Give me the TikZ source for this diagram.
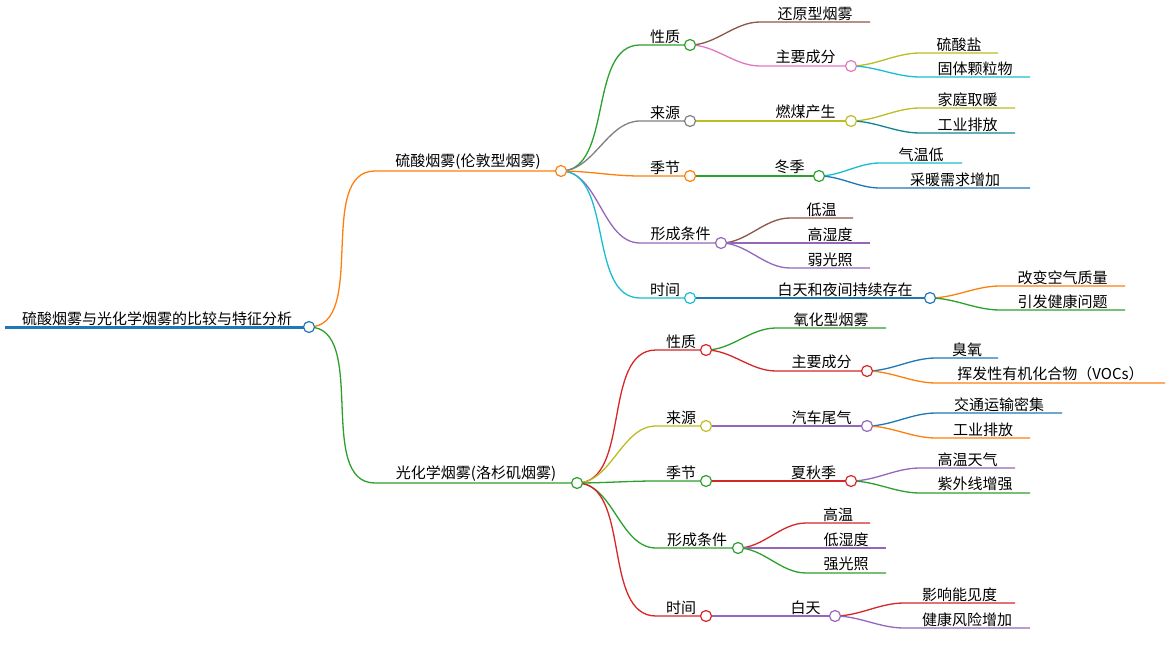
\documentclass[tikz,border=0pt]{standalone}
\usepackage{fontspec}
\setmainfont{Noto Sans CJK SC}
\pgfdeclarelayer{bg}\pgfsetlayers{bg,main}
\definecolor{cb}{HTML}{1F77B4}\definecolor{co}{HTML}{FF7F0E}\definecolor{cg}{HTML}{2CA02C}
\definecolor{cr}{HTML}{D62728}\definecolor{cp}{HTML}{9467BD}\definecolor{cn}{HTML}{8C564B}
\definecolor{ck}{HTML}{E377C2}\definecolor{cy}{HTML}{7F7F7F}\definecolor{cl}{HTML}{BCBD22}
\definecolor{cc}{HTML}{17BECF}
\tikzset{lbl/.style={anchor=south,inner sep=1.5pt,font=\fontsize{15}{18}\selectfont},
 knob/.style={circle,draw,fill=white,line width=1.2pt,minimum size=11pt,inner sep=0pt}}
% \br{parent}{name}{x0}{x1}{y}{color}{text}
\newcommand\br[7]{%
 \coordinate (#2s) at (#3,#5);\coordinate (#2) at (#4,#5);
 \begin{pgfonlayer}{bg}
 \draw[#6,line width=1.3pt] (#1) to[out=0,in=180,looseness=0.9] (#2s) -- (#2);
 \end{pgfonlayer}
 \node[lbl] (#2t) at ($(#2s)!0.5!(#2)$) {#7};}
\newcommand\kn[2]{\node[knob,draw=#2] at (#1) {};}
\usetikzlibrary{calc}
\begin{document}
\begin{tikzpicture}[x=1pt,y=-1pt]
\useasboundingbox (0,0) rectangle (1169,650);
\coordinate (roots) at (5,327);\coordinate (root) at (309,327);
\draw[cb,line width=3pt] (roots)--(root);
\node[lbl] (roott) at (157,327) {硫酸烟雾与光化学烟雾的比较与特征分析};
% branch 1
\br{root}{a}{375}{561}{171}{co}{硫酸烟雾(伦敦型烟雾)}
\br{a}{a1}{640}{690}{45}{cg}{性质}
\br{a1}{a11}{760}{870}{22}{cn}{还原型烟雾}
\br{a1}{a12}{760}{851}{66}{ck}{主要成分}
\br{a12}{a121}{920}{998}{53}{cl}{硫酸盐}
\br{a12}{a122}{920}{1030}{77}{cc}{固体颗粒物}
\br{a}{a2}{640}{690}{121}{cy}{来源}
\br{a2}{a21}{760}{851}{121}{cl}{燃煤产生}
\br{a21}{a211}{920}{1015}{108}{cl}{家庭取暖}
\br{a21}{a212}{920}{1015}{133}{cc!70!black}{工业排放}
\br{a}{a3}{640}{690}{176}{co}{季节}
\br{a3}{a31}{760}{819}{176}{cg}{冬季}
\br{a31}{a311}{880}{962}{163}{cc}{气温低}
\br{a31}{a312}{880}{1030}{188}{cb}{采暖需求增加}
\br{a}{a4}{640}{721}{243}{cp}{形成条件}
\br{a4}{a41}{790}{853}{218}{cn}{低温}
\br{a4}{a42}{790}{870}{243}{cp}{高湿度}
\br{a4}{a43}{790}{870}{268}{cp}{弱光照}
\br{a}{a5}{640}{690}{298}{cc}{时间}
\br{a5}{a51}{760}{930}{298}{cb}{白天和夜间持续存在}
\br{a51}{a511}{1000}{1125}{286}{co}{改变空气质量}
\br{a51}{a512}{1000}{1125}{310}{cg}{引发健康问题}
% branch 2
\br{root}{b}{375}{577}{483}{cg}{光化学烟雾(洛杉矶烟雾)}
\br{b}{b1}{656}{706}{350}{cr}{性质}
\br{b1}{b11}{776}{886}{328}{cg}{氧化型烟雾}
\br{b1}{b12}{776}{867}{371}{cr}{主要成分}
\br{b12}{b121}{936}{998}{358}{cb}{臭氧}
\br{b12}{b122}{936}{1165}{383}{co}{挥发性有机化合物（VOCs）}
\br{b}{b2}{656}{706}{426}{cl}{来源}
\br{b2}{b21}{776}{867}{426}{cp}{汽车尾气}
\br{b21}{b211}{936}{1062}{413}{cb}{交通运输密集}
\br{b21}{b212}{936}{1030}{438}{co}{工业排放}
\br{b}{b3}{656}{706}{481}{cg}{季节}
\br{b3}{b31}{776}{851}{481}{cr}{夏秋季}
\br{b31}{b311}{920}{1015}{468}{cp}{高温天气}
\br{b31}{b312}{920}{1030}{493}{cg}{紫外线增强}
\br{b}{b4}{656}{738}{548}{cg}{形成条件}
\br{b4}{b41}{806}{870}{523}{cr}{高温}
\br{b4}{b42}{806}{886}{548}{cp}{低湿度}
\br{b4}{b43}{806}{886}{573}{cg}{强光照}
\br{b}{b5}{656}{706}{616}{cr}{时间}
\br{b5}{b51}{776}{835}{616}{cp}{白天}
\br{b51}{b511}{904}{1015}{603}{cr}{影响能见度}
\br{b51}{b512}{904}{1030}{628}{cp}{健康风险增加}
% knobs
\kn{root}{cb}\kn{a}{co}\kn{b}{cg}
\kn{a1}{cg}\kn{a12}{ck}\kn{a2}{cy}\kn{a21}{cl}\kn{a3}{co}\kn{a31}{cg}\kn{a4}{cp}\kn{a5}{cc}\kn{a51}{cb}
\kn{b1}{cr}\kn{b12}{cr}\kn{b2}{cl}\kn{b21}{cp}\kn{b3}{cg}\kn{b31}{cr}\kn{b4}{cg}\kn{b5}{cr}\kn{b51}{cp}
\end{tikzpicture}
\end{document}
